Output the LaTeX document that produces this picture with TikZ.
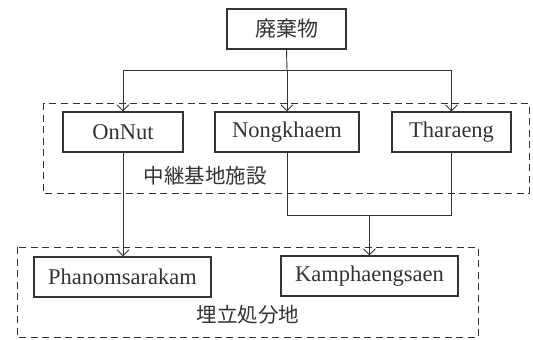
\documentclass[tikz,border=0pt]{standalone}
\usepackage{fontspec}
\setmainfont{Liberation Serif}
\newfontfamily\cjk{Noto Sans CJK JP}
\usetikzlibrary{arrows.meta}
\definecolor{ink}{HTML}{333333}
\tikzset{
  box/.style={draw=ink, line width=1.1pt, minimum height=40pt, inner sep=0pt, text=ink,
    font=\fontsize{22.5}{26}\selectfont},
  grp/.style={draw=ink, line width=1pt, dash pattern=on 7pt off 4.5pt},
  con/.style={draw=ink, line width=0.9pt},
  arr/.style={con, -{Straight Barb[length=6pt,width=12pt,line width=0.9pt]}},
  lbl/.style={text=ink, font=\cjk\fontsize{20.5}{24}\selectfont, inner sep=0pt}
}
\begin{document}
\begin{tikzpicture}[x=1pt,y=-1pt]
\useasboundingbox (0,0) rectangle (533,340);
% groups
\draw[grp] (43,103) rectangle (529,193);
\draw[grp] (17,247) rectangle (478,337);
% nodes
\node[box, minimum width=119pt, font=\cjk\fontsize{21}{24}\selectfont] (w) at (286.5,29) {廃棄物};
\node[box, minimum width=120pt] (on) at (123,132) {OnNut};
\node[box, minimum width=144pt] (ng) at (287,132) {Nongkhaem};
\node[box, minimum width=119pt] (th) at (451.5,132) {Tharaeng};
\node[box, minimum width=177pt] (ph) at (122.5,277) {Phanomsarakam};
\node[box, minimum width=177pt] (ka) at (369.5,276) {Kamphaengsaen};
\node[lbl] (l1) at (205,176) {中継基地施設};
\node[lbl] (l2) at (248,315) {埋立処分地};
% connectors
\coordinate (j0) at (287,70);
\coordinate (jl) at (123,70);
\coordinate (jr) at (451.5,70);
\draw[con] (w.south) -- (j0);
\draw[con] (jl) -- (jr);
\draw[arr] (jl) -- (on.north);
\draw[arr] (j0) -- (ng.north);
\draw[arr] (jr) -- (th.north);
\draw[arr] (on.south) -- (on.south |- ph.north);
\coordinate (k1) at (287,215);
\coordinate (k2) at (451.5,215);
\coordinate (km) at (369.5,215);
\draw[con] (ng.south) -- (k1) -- (k2) -- (th.south);
\draw[arr] (km) -- (ka.north);
\end{tikzpicture}
\end{document}
